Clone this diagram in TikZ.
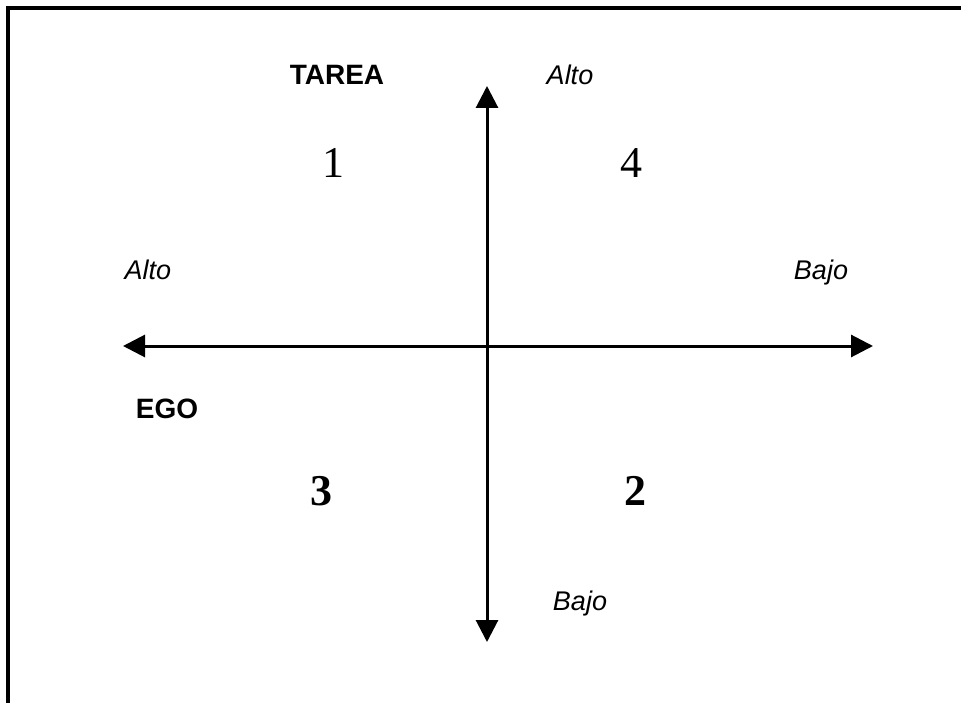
\documentclass[tikz,border=0pt]{standalone}
\usepackage{fontspec}
\setmainfont{Liberation Serif}
\setsansfont{Liberation Sans}
\usetikzlibrary{arrows.meta}
\begin{document}
\begin{tikzpicture}[x=1pt,y=-1pt,
  axis/.style={line width=3pt,-{Triangle[width=22pt,length=22pt]}},
  frameline/.style={line width=3.5pt},
  boldlbl/.style={font=\fontsize{28}{30}\selectfont\sffamily\bfseries,anchor=base,inner sep=0pt},
  itlbl/.style={font=\fontsize{27}{30}\selectfont\sffamily\itshape,anchor=base,inner sep=0pt},
  numlbl/.style={font=\fontsize{44}{48}\selectfont\rmfamily,anchor=base,inner sep=0pt},
  bnumlbl/.style={font=\fontsize{44}{48}\selectfont\rmfamily\bfseries,anchor=base,inner sep=0pt}]
\useasboundingbox (0,0) rectangle (961,703);
\fill[white] (0,0) rectangle (961,703);
% frame
\coordinate (fbl) at (8,703);
\coordinate (ftl) at (8,8);
\coordinate (ftr) at (961,8);
\draw[frameline] (fbl) -- (ftl) -- (ftr);
% axes
\coordinate (c) at (487,346);
\coordinate (top) at (487,86);
\coordinate (bot) at (487,642);
\coordinate (lft) at (123,346);
\coordinate (rgt) at (873,346);
\draw[axis] (c) -- (top);
\draw[axis] (c) -- (bot);
\draw[axis] (c) -- (lft);
\draw[axis] (c) -- (rgt);
% labels
\node[boldlbl] (tarea) at (337,85) {TAREA};
\node[itlbl] (altotop) at (570,85) {Alto};
\node[numlbl] (n1) at (333,178) {1};
\node[numlbl] (n4) at (631,178) {4};
\node[itlbl] (altoleft) at (148,280) {Alto};
\node[itlbl] (bajoright) at (821,280) {Bajo};
\node[boldlbl] (ego) at (167,418) {EGO};
\node[bnumlbl] (n3) at (321,505) {3};
\node[bnumlbl] (n2) at (635,505) {2};
\node[itlbl] (bajobot) at (580,610) {Bajo};
\end{tikzpicture}
\end{document}
